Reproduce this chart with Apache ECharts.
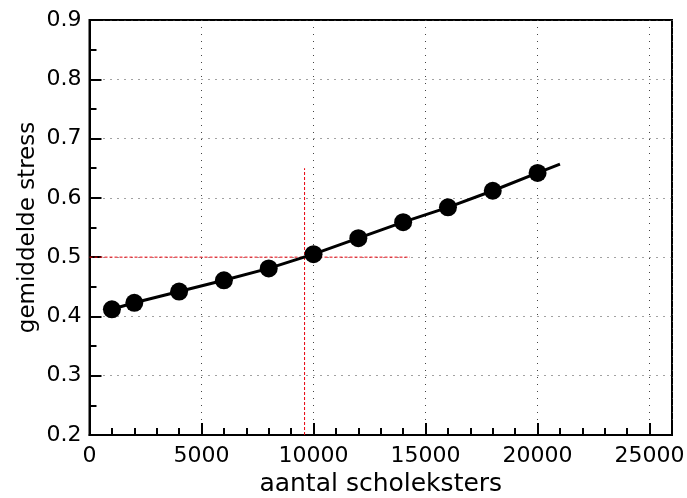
<!DOCTYPE html>
<html>
<head>
<meta charset="utf-8">
<script src="https://cdn.jsdelivr.net/npm/echarts@6/dist/echarts.min.js"></script>
<style>
  html, body { margin: 0; padding: 0; background: #fff; }
  #chart { width: 687px; height: 498px; }
</style>
</head>
<body>
<div id="chart"></div>
<script>
// Measured stress per flock size
const flockSizes = [1000, 2000, 4000, 6000, 8000, 10000, 12000, 14000, 16000, 18000, 20000];
const meanStress = [0.412, 0.423, 0.442, 0.461, 0.481, 0.505, 0.532, 0.559, 0.584, 0.612, 0.642];

// Fitted trend, running a little past the last measurement
const fitX = [1000, 2000, 4000, 6000, 8000, 10000, 12000, 14000, 16000, 18000, 20000, 21000];
const fitY = [0.412, 0.423, 0.442, 0.461, 0.481, 0.505, 0.532, 0.559, 0.584, 0.612, 0.642, 0.657];

// Red reference lines: the flock size where stress reaches 0.5
const guideVX = [9600, 9600];
const guideVY = [0.2, 0.65];
const guideHX = [0, 14300];
const guideHY = [0.5, 0.5];

const xTitle = 'aantal scholeksters';
const yTitle = 'gemiddelde stress';

const pair = (xs, ys) => xs.map((x, i) => [x, ys[i]]);

const FONT = 'DejaVu Sans';
const chart = echarts.init(document.getElementById('chart'), null, { renderer: 'canvas' });

const gridDots = { show: true, lineStyle: { color: '#444', width: 1, type: [1, 6] } };

chart.setOption({
  animation: false,
  backgroundColor: '#fff',
  grid: {
    left: 89.5, right: 15, top: 20, bottom: 63,
    outerBoundsMode: 'none', containLabel: false,
    show: true, borderColor: '#000', borderWidth: 2, backgroundColor: 'transparent'
  },
  xAxis: {
    type: 'value', min: 0, max: 26000, interval: 5000,
    name: xTitle, nameLocation: 'middle', nameGap: 37,
    nameTextStyle: { fontFamily: FONT, fontSize: 25, color: '#000' },
    axisLine: { show: true, lineStyle: { color: '#000', width: 2 } },
    axisTick: { show: true, inside: true, length: 12, lineStyle: { color: '#000', width: 2 } },
    minorTick: { show: true, splitNumber: 5, length: 7, lineStyle: { color: '#000', width: 2 } },
    axisLabel: {
      fontFamily: FONT, fontSize: 22, color: '#000', margin: 10,
      formatter: v => (v > 25000 ? '' : String(v))
    },
    splitLine: gridDots
  },
  yAxis: {
    type: 'value', min: 0.2, max: 0.9, interval: 0.1,
    name: yTitle, nameLocation: 'middle', nameGap: 50, nameMoveOverlap: false,
    nameTextStyle: { fontFamily: FONT, fontSize: 23, color: '#000' },
    axisLine: { show: true, lineStyle: { color: '#000', width: 2 } },
    axisTick: { show: true, inside: true, length: 12, lineStyle: { color: '#000', width: 2 } },
    minorTick: { show: true, splitNumber: 2, length: 7, lineStyle: { color: '#000', width: 2 } },
    axisLabel: {
      fontFamily: FONT, fontSize: 22, color: '#000', margin: 8,
      formatter: v => v.toFixed(1)
    },
    splitLine: gridDots
  },
  series: [
    {
      type: 'line', data: pair(guideHX, guideHY), showSymbol: false, silent: true,
      lineStyle: { color: '#e8000b', width: 1, type: [3, 2] }, z: 2
    },
    {
      type: 'line', data: pair(guideVX, guideVY), showSymbol: false, silent: true,
      lineStyle: { color: '#e8000b', width: 1, type: [3, 2] }, z: 2
    },
    {
      type: 'line', data: pair(fitX, fitY), showSymbol: false, smooth: false,
      lineStyle: { color: '#000', width: 3 }, z: 3
    },
    {
      type: 'scatter', data: pair(flockSizes, meanStress), symbol: 'circle', symbolSize: 18,
      itemStyle: { color: '#000', opacity: 1 }, z: 4
    }
  ]
});
</script>
</body>
</html>
